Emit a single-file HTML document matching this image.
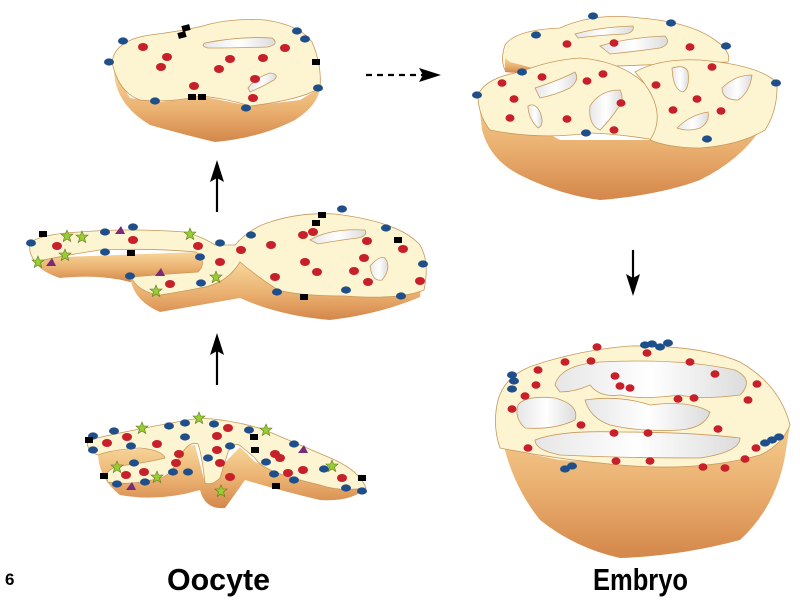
<!DOCTYPE html>
<html><head><meta charset="utf-8"><style>
html,body{margin:0;padding:0;background:#fff;width:800px;height:603px;overflow:hidden}
svg{display:block}
</style></head><body>
<svg width="800" height="603" viewBox="0 0 800 603" xmlns="http://www.w3.org/2000/svg">
<defs>
<linearGradient id="bd" x1="0" y1="0" x2="0" y2="1">
<stop offset="0" stop-color="#f7d79a"/><stop offset="0.55" stop-color="#eab070"/><stop offset="1" stop-color="#d4874a"/>
</linearGradient>
<linearGradient id="hl" x1="0" y1="0" x2="1" y2="0">
<stop offset="0" stop-color="#e6e6e6"/><stop offset="0.5" stop-color="#ffffff"/><stop offset="1" stop-color="#dcdcdc"/>
</linearGradient>
</defs>
<g stroke="#c8985a" stroke-width="0.8">
<!-- top-left oocyte -->
<path d="M114,72 Q116,105 150,125 Q185,135 215,142 Q260,138 295,120 Q318,105 320,88 L300,100 L250,106 L200,96 L160,102 L130,98 Z" fill="url(#bd)" stroke="none"/>
<path d="M112,62 Q115,40 150,35 Q190,30 210,24 Q235,18 265,20 Q300,25 312,42 Q322,65 320,88 Q300,100 250,106 Q225,98 200,96 Q170,103 140,100 Q118,92 112,62 Z" fill="#fdf5d2"/>
<path d="M205,43 Q240,36 272,38 Q280,44 268,47 Q235,48 208,48 Q200,46 205,43Z" fill="url(#hl)"/>
<path d="M248,88 Q255,78 270,73 Q280,74 274,80 Q262,87 250,92 Z" fill="url(#hl)"/>

<!-- middle -->
<path d="M32,255 Q35,270 60,278 Q100,274 130,282 L200,273 Q208,262 200,252 L35,258 Z" fill="url(#bd)" stroke="none"/>
<path d="M130,275 Q132,300 160,312 Q200,305 240,298 Q280,316 330,320 Q380,314 420,297 L422,280 L340,296 L280,290 L240,262 L200,287 L160,295 Z" fill="url(#bd)" stroke="none"/>
<path d="M30,243 Q40,234 80,232 Q130,228 185,232 Q205,238 215,245 L235,245 Q250,228 270,222 Q300,212 335,214 Q400,222 420,245 Q430,262 424,290 Q400,300 345,296 Q300,296 278,290 Q255,275 240,262 Q228,282 205,287 Q180,292 160,295 Q138,292 131,277 Q165,274 198,272 Q208,262 196,252 Q150,248 100,250 Q60,256 35,262 Q28,252 30,243 Z" fill="#fdf5d2"/>
<path d="M310,240 Q330,228 365,230 Q368,236 358,238 Q340,240 318,244 Z" fill="url(#hl)"/>
<path d="M370,266 Q380,255 385,258 Q392,268 382,280 Q372,282 370,266Z" fill="url(#hl)"/>

<!-- bottom-left -->
<path d="M98,452 Q98,478 120,495 Q160,502 200,490 Q205,510 225,508 Q238,490 245,480 Q285,492 320,500 Q352,502 366,488 L320,485 L255,462 L240,447 L205,483 L195,445 Z" fill="url(#bd)" stroke="none"/>
<path d="M88,440 Q140,428 200,418 Q235,420 265,430 Q300,445 335,460 Q360,472 366,488 Q340,492 320,485 Q290,478 275,472 Q260,466 255,458 L242,447 Q234,440 228,452 L220,478 Q212,486 205,483 Q202,455 198,444 Q188,440 178,460 Q170,476 160,478 Q130,486 108,482 Q102,470 120,466 Q150,462 165,458 Q162,450 140,448 Q110,450 98,455 Q85,450 88,440 Z" fill="#fdf5d2"/>

<!-- top-right embryo -->
<path d="M478,95 L482,130 Q490,160 520,175 Q560,195 600,200 Q660,195 700,180 Q740,160 760,130 L777,83 L700,140 L560,140 Z" fill="url(#bd)" stroke="none"/>
<path d="M505,45 Q515,30 560,28 Q595,12 640,18 Q690,22 715,40 Q732,52 728,62 L505,70 Q500,60 505,45Z" fill="#fdf5d2"/>
<path d="M505,58 L505,72 Q520,74 540,70 L510,62 Z" fill="url(#bd)" stroke="none"/>
<path d="M478,95 Q485,78 520,72 Q550,60 580,58 Q630,62 655,95 Q672,130 655,140 Q620,134 590,133 Q540,140 490,130 Q478,115 478,95 Z" fill="#fdf5d2"/>
<path d="M635,72 Q660,58 700,60 Q760,65 777,83 Q778,110 765,130 Q740,145 700,148 Q670,148 650,140 Q670,110 635,72Z" fill="#fdf5d2"/>
<path d="M575,34 Q600,27 633,26 Q635,32 625,34 Q600,35 578,38Z" fill="url(#hl)"/>
<path d="M600,46 Q625,38 665,36 Q672,44 660,48 Q630,52 610,54Z" fill="url(#hl)"/>
<path d="M535,88 Q560,80 575,72 Q580,80 570,88 Q555,95 540,98Z" fill="url(#hl)"/>
<path d="M528,106 Q535,102 540,112 Q545,125 538,128 Q528,118 528,106Z" fill="url(#hl)"/>
<path d="M590,106 Q600,90 620,90 Q625,100 618,108 Q610,120 600,130 Q588,125 590,106Z" fill="url(#hl)"/>
<path d="M672,68 Q685,64 688,72 Q690,88 683,92 Q673,90 672,68Z" fill="url(#hl)"/>
<path d="M722,88 Q735,75 752,75 Q750,92 738,100 Q722,100 722,88Z" fill="url(#hl)"/>
<path d="M677,128 Q690,115 708,112 Q710,122 700,128 Q688,132 677,128Z" fill="url(#hl)"/>

<!-- bottom-right embryo -->
<path d="M498,400 Q500,470 540,520 Q575,548 620,558 Q680,556 740,540 Q778,505 786,450 L790,425 Q700,470 560,460 L500,448 Z" fill="url(#bd)" stroke="none"/>
<path d="M498,400 Q505,375 535,365 Q580,350 630,346 Q700,345 740,362 Q780,385 790,425 Q782,445 760,455 Q700,472 620,465 Q560,460 500,448 Q492,425 498,400 Z" fill="#fdf5d2"/>
<path d="M555,385 Q560,365 600,362 Q680,358 735,370 Q755,380 740,395 Q700,400 680,395 Q640,400 620,395 Q600,398 590,385 Q575,392 560,392Z" fill="url(#hl)"/>
<path d="M518,405 Q525,395 555,398 Q580,405 575,420 Q555,430 525,428 Q514,418 518,405Z" fill="url(#hl)"/>
<path d="M585,400 Q620,395 650,405 Q690,400 710,412 Q705,428 680,430 Q640,432 610,425 Q590,418 585,400Z" fill="url(#hl)"/>
<path d="M535,440 Q560,430 620,432 Q690,432 740,438 Q740,452 700,458 Q620,458 560,455 Q535,450 535,440Z" fill="url(#hl)"/>
</g>

<!-- dots -->
<g fill="#1f4f8a">
<ellipse cx="123" cy="41" rx="5" ry="3.6"/><ellipse cx="109" cy="62" rx="5" ry="3.6"/><ellipse cx="155" cy="101" rx="5" ry="3.6"/><ellipse cx="297" cy="31" rx="5" ry="3.6"/><ellipse cx="305" cy="39" rx="5" ry="3.6"/><ellipse cx="318" cy="88" rx="5" ry="3.6"/><ellipse cx="246" cy="108" rx="5" ry="3.6"/>
<ellipse cx="31" cy="243" rx="5" ry="3.6"/><ellipse cx="105" cy="232" rx="5" ry="3.6"/><ellipse cx="133" cy="227" rx="5" ry="3.6"/><ellipse cx="105" cy="252" rx="5" ry="3.6"/><ellipse cx="130" cy="276" rx="5" ry="3.6"/><ellipse cx="200" cy="257" rx="5" ry="3.6"/><ellipse cx="220" cy="243" rx="5" ry="3.6"/><ellipse cx="251" cy="235" rx="5" ry="3.6"/><ellipse cx="342" cy="209" rx="5" ry="3.6"/><ellipse cx="386" cy="228" rx="5" ry="3.6"/><ellipse cx="423" cy="264" rx="5" ry="3.6"/><ellipse cx="401" cy="296" rx="5" ry="3.6"/><ellipse cx="346" cy="290" rx="5" ry="3.6"/><ellipse cx="277" cy="292" rx="5" ry="3.6"/><ellipse cx="201" cy="283" rx="5" ry="3.6"/>
<ellipse cx="93" cy="436" rx="5" ry="3.6"/><ellipse cx="114" cy="431" rx="5" ry="3.6"/><ellipse cx="169" cy="426" rx="5" ry="3.6"/><ellipse cx="185" cy="423" rx="5" ry="3.6"/><ellipse cx="214" cy="424" rx="5" ry="3.6"/><ellipse cx="249" cy="430" rx="5" ry="3.6"/><ellipse cx="294" cy="444" rx="5" ry="3.6"/><ellipse cx="324" cy="469" rx="5" ry="3.6"/><ellipse cx="346" cy="488" rx="5" ry="3.6"/><ellipse cx="362" cy="491" rx="5" ry="3.6"/><ellipse cx="93" cy="450" rx="5" ry="3.6"/><ellipse cx="131" cy="446" rx="5" ry="3.6"/><ellipse cx="134" cy="463" rx="5" ry="3.6"/><ellipse cx="117" cy="484" rx="5" ry="3.6"/><ellipse cx="145" cy="482" rx="5" ry="3.6"/><ellipse cx="173" cy="472" rx="5" ry="3.6"/><ellipse cx="188" cy="472" rx="5" ry="3.6"/><ellipse cx="208" cy="458" rx="5" ry="3.6"/><ellipse cx="230" cy="446" rx="5" ry="3.6"/><ellipse cx="266" cy="462" rx="5" ry="3.6"/><ellipse cx="274" cy="474" rx="5" ry="3.6"/><ellipse cx="294" cy="480" rx="5" ry="3.6"/><ellipse cx="185" cy="437" rx="5" ry="3.6"/>
<ellipse cx="536" cy="35" rx="5" ry="3.6"/><ellipse cx="593" cy="16" rx="5" ry="3.6"/><ellipse cx="671" cy="23" rx="5" ry="3.6"/><ellipse cx="726" cy="46" rx="5" ry="3.6"/><ellipse cx="522" cy="72" rx="5" ry="3.6"/><ellipse cx="477" cy="95" rx="5" ry="3.6"/><ellipse cx="586" cy="133" rx="5" ry="3.6"/><ellipse cx="776" cy="83" rx="5" ry="3.6"/><ellipse cx="707" cy="139" rx="5" ry="3.6"/>
<ellipse cx="645" cy="345" rx="5" ry="3.6"/><ellipse cx="652" cy="344" rx="5" ry="3.6"/><ellipse cx="660" cy="347" rx="5" ry="3.6"/><ellipse cx="668" cy="343" rx="5" ry="3.6"/><ellipse cx="512" cy="375" rx="5" ry="3.6"/><ellipse cx="514" cy="381" rx="5" ry="3.6"/><ellipse cx="512" cy="389" rx="5" ry="3.6"/><ellipse cx="765" cy="443" rx="5" ry="3.6"/><ellipse cx="772" cy="440" rx="5" ry="3.6"/><ellipse cx="779" cy="437" rx="5" ry="3.6"/><ellipse cx="565" cy="469" rx="5" ry="3.6"/><ellipse cx="572" cy="466" rx="5" ry="3.6"/>
</g>
<g fill="#c8202a">
<ellipse cx="143" cy="47" rx="5" ry="4"/><ellipse cx="167" cy="57" rx="5" ry="4"/><ellipse cx="161" cy="67" rx="5" ry="4"/><ellipse cx="230" cy="59" rx="5" ry="4"/><ellipse cx="263" cy="58" rx="5" ry="4"/><ellipse cx="285" cy="48" rx="5" ry="4"/><ellipse cx="219" cy="69" rx="5" ry="4"/><ellipse cx="255" cy="79" rx="5" ry="4"/><ellipse cx="194" cy="86" rx="5" ry="4"/><ellipse cx="253" cy="98" rx="5" ry="4"/>
<ellipse cx="57" cy="246" rx="5" ry="4"/><ellipse cx="133" cy="240" rx="5" ry="4"/><ellipse cx="198" cy="246" rx="5" ry="4"/><ellipse cx="220" cy="262" rx="5" ry="4"/><ellipse cx="241" cy="250" rx="5" ry="4"/><ellipse cx="271" cy="245" rx="5" ry="4"/><ellipse cx="303" cy="235" rx="5" ry="4"/><ellipse cx="313" cy="232" rx="5" ry="4"/><ellipse cx="305" cy="262" rx="5" ry="4"/><ellipse cx="317" cy="272" rx="5" ry="4"/><ellipse cx="275" cy="277" rx="5" ry="4"/><ellipse cx="367" cy="241" rx="5" ry="4"/><ellipse cx="364" cy="258" rx="5" ry="4"/><ellipse cx="354" cy="271" rx="5" ry="4"/><ellipse cx="368" cy="282" rx="5" ry="4"/><ellipse cx="170" cy="284" rx="5" ry="4"/><ellipse cx="403" cy="249" rx="5" ry="4"/><ellipse cx="420" cy="281" rx="5" ry="4"/>
<ellipse cx="107" cy="443" rx="5" ry="4"/><ellipse cx="127" cy="437" rx="5" ry="4"/><ellipse cx="157" cy="444" rx="5" ry="4"/><ellipse cx="179" cy="454" rx="5" ry="4"/><ellipse cx="176" cy="463" rx="5" ry="4"/><ellipse cx="217" cy="436" rx="5" ry="4"/><ellipse cx="228" cy="428" rx="5" ry="4"/><ellipse cx="217" cy="450" rx="5" ry="4"/><ellipse cx="220" cy="463" rx="5" ry="4"/><ellipse cx="230" cy="477" rx="5" ry="4"/><ellipse cx="275" cy="454" rx="5" ry="4"/><ellipse cx="280" cy="458" rx="5" ry="4"/><ellipse cx="288" cy="473" rx="5" ry="4"/><ellipse cx="303" cy="470" rx="5" ry="4"/><ellipse cx="342" cy="478" rx="5" ry="4"/><ellipse cx="126" cy="475" rx="5" ry="4"/><ellipse cx="144" cy="472" rx="5" ry="4"/>
<ellipse cx="567" cy="44" rx="4.5" ry="3.8"/><ellipse cx="614" cy="43" rx="4.5" ry="3.8"/><ellipse cx="690" cy="47" rx="4.5" ry="3.8"/><ellipse cx="502" cy="83" rx="4.5" ry="3.8"/><ellipse cx="542" cy="77" rx="4.5" ry="3.8"/><ellipse cx="587" cy="81" rx="4.5" ry="3.8"/><ellipse cx="603" cy="74" rx="4.5" ry="3.8"/><ellipse cx="514" cy="99" rx="4.5" ry="3.8"/><ellipse cx="510" cy="118" rx="4.5" ry="3.8"/><ellipse cx="567" cy="119" rx="4.5" ry="3.8"/><ellipse cx="621" cy="103" rx="4.5" ry="3.8"/><ellipse cx="614" cy="130" rx="4.5" ry="3.8"/><ellipse cx="656" cy="85" rx="4.5" ry="3.8"/><ellipse cx="712" cy="67" rx="4.5" ry="3.8"/><ellipse cx="697" cy="99" rx="4.5" ry="3.8"/><ellipse cx="673" cy="110" rx="4.5" ry="3.8"/><ellipse cx="721" cy="111" rx="4.5" ry="3.8"/>
<ellipse cx="597" cy="347" rx="4.5" ry="3.8"/><ellipse cx="647" cy="353" rx="4.5" ry="3.8"/><ellipse cx="565" cy="362" rx="4.5" ry="3.8"/><ellipse cx="591" cy="361" rx="4.5" ry="3.8"/><ellipse cx="538" cy="370" rx="4.5" ry="3.8"/><ellipse cx="536" cy="385" rx="4.5" ry="3.8"/><ellipse cx="525" cy="396" rx="4.5" ry="3.8"/><ellipse cx="512" cy="409" rx="4.5" ry="3.8"/><ellipse cx="615" cy="376" rx="4.5" ry="3.8"/><ellipse cx="620" cy="386" rx="4.5" ry="3.8"/><ellipse cx="630" cy="388" rx="4.5" ry="3.8"/><ellipse cx="690" cy="362" rx="4.5" ry="3.8"/><ellipse cx="715" cy="374" rx="4.5" ry="3.8"/><ellipse cx="757" cy="384" rx="4.5" ry="3.8"/><ellipse cx="748" cy="400" rx="4.5" ry="3.8"/><ellipse cx="678" cy="399" rx="4.5" ry="3.8"/><ellipse cx="694" cy="398" rx="4.5" ry="3.8"/><ellipse cx="581" cy="425" rx="4.5" ry="3.8"/><ellipse cx="648" cy="433" rx="4.5" ry="3.8"/><ellipse cx="614" cy="433" rx="4.5" ry="3.8"/><ellipse cx="718" cy="429" rx="4.5" ry="3.8"/><ellipse cx="528" cy="448" rx="4.5" ry="3.8"/><ellipse cx="616" cy="461" rx="4.5" ry="3.8"/><ellipse cx="650" cy="461" rx="4.5" ry="3.8"/><ellipse cx="703" cy="467" rx="4.5" ry="3.8"/><ellipse cx="725" cy="468" rx="4.5" ry="3.8"/><ellipse cx="745" cy="459" rx="4.5" ry="3.8"/><ellipse cx="756" cy="448" rx="4.5" ry="3.8"/>
</g>
<g fill="#000">
<rect x="182" y="25" width="8" height="6" transform="rotate(-15 186 28)"/><rect x="178" y="32" width="8" height="6" transform="rotate(-15 182 35)"/><rect x="188" y="94" width="8" height="6"/><rect x="198" y="94" width="8" height="6"/><rect x="312" y="59" width="8" height="6"/>
<rect x="39" y="231" width="8" height="6"/><rect x="127" y="250" width="8" height="6"/><rect x="318" y="212" width="8" height="6"/><rect x="312" y="220" width="8" height="6"/><rect x="394" y="237" width="8" height="6"/><rect x="300" y="294" width="8" height="6"/>
<rect x="85" y="437" width="8" height="6"/><rect x="100" y="473" width="8" height="6"/><rect x="250" y="434" width="8" height="6"/><rect x="272" y="483" width="8" height="6"/><rect x="358" y="475" width="8" height="6"/><rect x="251" y="447" width="8" height="6"/>
</g>
<g fill="#9acd32" stroke="#5a7a20" stroke-width="0.6">
<polygon points="0,-6 1.6,-2 6,-2 2.5,1 3.8,5.5 0,3 -3.8,5.5 -2.5,1 -6,-2 -1.6,-2" transform="translate(67,236)"/>
<polygon points="0,-6 1.6,-2 6,-2 2.5,1 3.8,5.5 0,3 -3.8,5.5 -2.5,1 -6,-2 -1.6,-2" transform="translate(82,237)"/>
<polygon points="0,-6 1.6,-2 6,-2 2.5,1 3.8,5.5 0,3 -3.8,5.5 -2.5,1 -6,-2 -1.6,-2" transform="translate(190,234)"/>
<polygon points="0,-6 1.6,-2 6,-2 2.5,1 3.8,5.5 0,3 -3.8,5.5 -2.5,1 -6,-2 -1.6,-2" transform="translate(65,255)"/>
<polygon points="0,-6 1.6,-2 6,-2 2.5,1 3.8,5.5 0,3 -3.8,5.5 -2.5,1 -6,-2 -1.6,-2" transform="translate(38,262)"/>
<polygon points="0,-6 1.6,-2 6,-2 2.5,1 3.8,5.5 0,3 -3.8,5.5 -2.5,1 -6,-2 -1.6,-2" transform="translate(216,277)"/>
<polygon points="0,-6 1.6,-2 6,-2 2.5,1 3.8,5.5 0,3 -3.8,5.5 -2.5,1 -6,-2 -1.6,-2" transform="translate(156,291)"/>
<polygon points="0,-6 1.6,-2 6,-2 2.5,1 3.8,5.5 0,3 -3.8,5.5 -2.5,1 -6,-2 -1.6,-2" transform="translate(142,428)"/>
<polygon points="0,-6 1.6,-2 6,-2 2.5,1 3.8,5.5 0,3 -3.8,5.5 -2.5,1 -6,-2 -1.6,-2" transform="translate(199,418)"/>
<polygon points="0,-6 1.6,-2 6,-2 2.5,1 3.8,5.5 0,3 -3.8,5.5 -2.5,1 -6,-2 -1.6,-2" transform="translate(266,430)"/>
<polygon points="0,-6 1.6,-2 6,-2 2.5,1 3.8,5.5 0,3 -3.8,5.5 -2.5,1 -6,-2 -1.6,-2" transform="translate(117,467)"/>
<polygon points="0,-6 1.6,-2 6,-2 2.5,1 3.8,5.5 0,3 -3.8,5.5 -2.5,1 -6,-2 -1.6,-2" transform="translate(157,477)"/>
<polygon points="0,-6 1.6,-2 6,-2 2.5,1 3.8,5.5 0,3 -3.8,5.5 -2.5,1 -6,-2 -1.6,-2" transform="translate(221,491)"/>
<polygon points="0,-6 1.6,-2 6,-2 2.5,1 3.8,5.5 0,3 -3.8,5.5 -2.5,1 -6,-2 -1.6,-2" transform="translate(332,466)"/>
</g>
<g fill="#7a2a78">
<polygon points="115,234 125,234 121,226"/><polygon points="46,266 56,266 52,258"/><polygon points="155,276 165,276 161,268"/>
<polygon points="298,453 308,453 304,445"/><polygon points="126,490 136,490 132,482"/>
</g>

<!-- arrows -->
<g stroke="#000" stroke-width="2.2" fill="none">
<line x1="217" y1="212" x2="217" y2="175"/>
<line x1="217" y1="385" x2="217" y2="348"/>
<line x1="633" y1="250" x2="633" y2="282"/>
<line x1="366" y1="75" x2="425" y2="75" stroke-dasharray="6,5"/>
</g>
<g fill="#000">
<polygon points="217,160 224,182 217,178 210,182"/>
<polygon points="217,333 224,355 217,351 210,355"/>
<polygon points="633,296 640,274 633,278 626,274"/>
<polygon points="441,75 419,68 423,75 419,82"/>
</g>

<g font-family="Liberation Sans, sans-serif" font-weight="bold" fill="#000">
<text x="167" y="590" font-size="31" textLength="103" lengthAdjust="spacingAndGlyphs">Oocyte</text>
<text x="593" y="590" font-size="31" textLength="95" lengthAdjust="spacingAndGlyphs">Embryo</text>
<text x="5" y="585" font-size="17">6</text>
</g>
</svg>
</body></html>
